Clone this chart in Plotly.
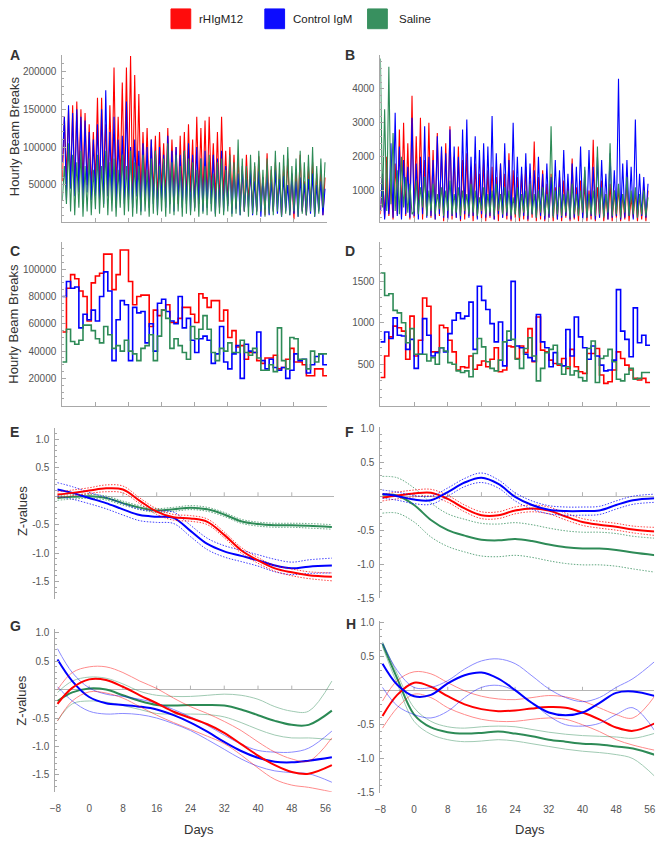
import numpy as np
import plotly.graph_objects as go
from plotly.subplots import make_subplots

W, H = 661, 846

RED = "#ff0000"
BLUE = "#0000ff"
GREEN = "#2e8b57"
GROUPS = ["rHIgM12", "Control IgM", "Saline"]
COLOURS = {"rHIgM12": RED, "Control IgM": BLUE, "Saline": GREEN}

FONT = "Liberation Sans, Arial, sans-serif"
AXIS_GREY = "#a8a8a8"
TEXT_GREY = "#555555"

# time bases
HALF_DAYS = np.arange(-8, 56, 0.5)   # panels A, B (light / dark halves)
DAYS = np.arange(-8, 56)             # panels C, D (daily means)
KNOTS = [-7.5, -4, 0, 4, 8, 12, 16, 20, 24, 28, 32, 36, 40, 44, 48, 52, 57.5]
X_TICKS = list(range(-8, 57, 8))

# ---------------- A: total activity, half-day values (thousands) ----------------
A_RED_K = [
    55, 140, 60, 150, 48, 155, 45, 160, 58, 150, 52, 145, 50, 130, 45, 120,
    55, 165, 40, 165, 60, 130, 35, 155, 50, 205, 40, 140, 55, 185, 45, 205,
    50, 220, 35, 195, 40, 170, 30, 120, 45, 125, 35, 110, 40, 115, 30, 120,
    45, 105, 35, 125, 30, 110, 40, 100, 25, 115, 35, 120, 30, 130, 40, 110,
    20, 140, 35, 125, 30, 135, 25, 140, 40, 105, 30, 120, 20, 140, 35, 95,
    25, 100, 30, 90, 20, 85, 25, 70, 15, 90, 30, 65, 20, 75, 15, 88,
    25, 60, 10, 92, 20, 70, 15, 80, 25, 65, 10, 75, 20, 85, 15, 60,
    5, 70, 20, 90, 15, 55, 10, 75, 20, 80, 12, 65, 18, 70, 10, 60,
]
A_BLUE_K = [
    80, 140, 30, 155, 45, 145, 35, 150, 40, 140, 25, 135, 40, 120, 30, 110,
    35, 130, 30, 150, 25, 175, 35, 120, 30, 140, 20, 110, 35, 115, 25, 160,
    30, 100, 20, 110, 35, 95, 15, 105, 30, 100, 20, 110, 25, 95, 15, 100,
    30, 90, 20, 115, 25, 95, 15, 100, 30, 90, 20, 95, 25, 105, 15, 90,
    20, 100, 25, 85, 15, 95, 20, 80, 25, 90, 12, 85, 20, 95, 15, 75,
    22, 80, 12, 70, 18, 65, 10, 75, 15, 60, 20, 70, 10, 55, 15, 68,
    8, 60, 18, 65, 10, 55, 15, 70, 12, 58, 8, 62, 15, 50, 10, 65,
    12, 55, 8, 60, 15, 52, 10, 58, 12, 65, 8, 50, 15, 55, 10, 45,
]
A_GREEN_K = [
    30, 75, 25, 105, 15, 90, 10, 80, 20, 95, 8, 75, 15, 85, 10, 70,
    18, 90, 12, 75, 20, 95, 10, 80, 15, 85, 8, 70, 20, 90, 10, 75,
    15, 95, 8, 80, 12, 75, 10, 90, 15, 70, 8, 85, 12, 95, 10, 75,
    15, 85, 8, 105, 12, 80, 10, 90, 15, 75, 8, 95, 12, 85, 10, 80,
    15, 70, 8, 85, 12, 75, 10, 90, 15, 65, 8, 80, 12, 85, 10, 70,
    15, 90, 8, 80, 12, 110, 10, 85, 15, 75, 8, 90, 12, 80, 10, 95,
    15, 70, 8, 85, 12, 75, 10, 95, 15, 80, 8, 90, 12, 100, 10, 75,
    15, 85, 8, 95, 12, 80, 10, 90, 15, 100, 8, 75, 12, 85, 20, 80,
]

# ---------------- B: fine movements, half-day values ----------------
B_RED = [
    300, 1500, 200, 2000, 250, 1200, 150, 1800, 300, 2800, 200, 3000, 250, 2400, 150, 3800,
    200, 2600, 300, 3150, 150, 1900, 250, 3000, 200, 2200, 150, 2700, 250, 2200, 100, 2400,
    200, 2900, 150, 2000, 200, 2300, 100, 1900, 150, 2100, 250, 1700, 100, 1800, 200, 1500,
    150, 1900, 100, 1600, 200, 1700, 150, 1400, 100, 1800, 200, 1500, 150, 2100, 100, 1600,
    200, 1400, 100, 1500, 150, 1700, 100, 1300, 200, 2450, 100, 1400, 150, 1600, 100, 1200,
    200, 1500, 100, 1100, 150, 1400, 100, 1300, 200, 1200, 100, 1950, 150, 1100, 100, 1300,
    200, 1200, 100, 1000, 150, 2500, 100, 1100, 200, 1300, 100, 900, 150, 1200, 100, 1000,
    200, 1100, 100, 900, 150, 1300, 100, 800, 200, 1000, 100, 900, 150, 1100, 100, 1000,
]
B_BLUE = [
    400, 1500, 150, 1200, 300, 2400, 200, 3300, 250, 2300, 150, 1900, 300, 1700, 200, 3150,
    250, 1800, 150, 2000, 300, 2900, 200, 2000, 250, 1900, 150, 2600, 300, 2300, 200, 2100,
    150, 2800, 250, 2300, 200, 2000, 150, 2800, 300, 3100, 200, 2000, 250, 2600, 150, 2200,
    300, 2400, 200, 2300, 250, 3200, 150, 2100, 300, 1800, 200, 2400, 250, 1900, 150, 3000,
    300, 2000, 200, 1700, 250, 2100, 150, 1800, 300, 1600, 200, 2000, 250, 1500, 150, 1800,
    200, 1400, 250, 1900, 150, 1600, 200, 2200, 250, 1500, 150, 1800, 200, 1700, 250, 2300,
    150, 1600, 200, 2200, 250, 1700, 150, 2000, 200, 1900, 250, 1500, 150, 2100, 200, 1600,
    250, 4300, 150, 1800, 200, 1900, 250, 1700, 150, 3100, 200, 1500, 250, 1400, 200, 1200,
]
B_GREEN = [
    4900, 500, 3400, 400, 4650, 600, 2700, 400, 1600, 300, 2000, 500, 1400, 350, 1200, 300,
    400, 1300, 300, 1100, 500, 1400, 250, 1000, 400, 1200, 300, 900, 450, 1100, 250, 1000,
    400, 1300, 300, 900, 350, 1100, 250, 1000, 400, 900, 300, 1200, 350, 1000, 250, 800,
    400, 1100, 300, 900, 350, 1000, 250, 1200, 400, 900, 300, 1100, 350, 1000, 250, 800,
    300, 1100, 200, 900, 350, 1000, 250, 1200, 300, 900, 200, 1000, 350, 1100, 250, 900,
    300, 2900, 200, 1000, 300, 1100, 250, 900, 350, 1000, 200, 1200, 300, 900, 250, 1000,
    350, 1700, 200, 900, 300, 1000, 250, 2300, 300, 1100, 200, 900, 350, 2400, 250, 1000,
    300, 1200, 200, 900, 350, 1400, 250, 1000, 300, 1100, 200, 900, 300, 1000, 250, 800,
]

# ---------------- C: daily mean total activity (thousands) ----------------
C_RED_K = [
    54, 86, 96, 93, 84, 80, 62, 90, 95, 97, 111, 111, 85, 96, 114, 114,
    91, 74, 80, 81, 81, 58, 70, 66, 70, 74, 61, 61, 64, 72, 72, 67,
    61, 82, 79, 72, 77, 77, 62, 70, 50, 55, 43, 44, 34, 39, 39, 33,
    31, 35, 35, 37, 27, 28, 34, 42, 32, 32, 30, 22, 22, 27, 27, 22,
]
C_BLUE_K = [
    80, 91, 86, 87, 57, 67, 63, 70, 62, 80, 98, 84, 33, 63, 77, 74,
    33, 72, 68, 69, 46, 60, 40, 75, 78, 69, 62, 60, 80, 57, 64, 48,
    39, 49, 51, 48, 31, 38, 58, 32, 27, 38, 44, 20, 45, 40, 39, 54,
    33, 27, 34, 28, 26, 28, 20, 26, 38, 33, 34, 24, 30, 36, 38, 30,
]
C_GREEN_K = [
    32, 56, 47, 45, 48, 59, 59, 55, 49, 46, 58, 52, 42, 44, 40, 48,
    40, 38, 33, 42, 44, 52, 33, 51, 70, 64, 42, 49, 44, 39, 34, 58,
    49, 56, 66, 56, 39, 33, 42, 40, 46, 39, 39, 48, 39, 37, 42, 35,
    26, 26, 30, 25, 57, 33, 27, 50, 49, 34, 34, 27, 40, 32, 38, 38,
]

# ---------------- D: daily mean fine movements ----------------
D_RED = [
    340, 600, 830, 960, 940, 900, 560, 1080, 600, 790, 1300, 1200, 650, 650, 970, 940,
    790, 650, 430, 470, 460, 600, 440, 490, 540, 470, 560, 700, 410, 430, 720, 710,
    570, 720, 640, 930, 530, 1070, 670, 650, 550, 510, 490, 570, 450, 680, 470, 410,
    390, 630, 630, 690, 370, 270, 290, 430, 650, 570, 490, 430, 330, 310, 330, 280,
]
D_BLUE = [
    770, 890, 810, 1060, 850, 840, 680, 800, 450, 620, 1050, 850, 600, 640, 700, 650,
    870, 1030, 1120, 1050, 1080, 1250, 680, 1440, 1270, 1160, 990, 770, 1010, 480, 790, 1500,
    720, 700, 620, 580, 540, 1100, 770, 700, 470, 640, 500, 480, 920, 600, 1070, 830,
    700, 560, 720, 600, 490, 420, 430, 550, 1400, 900, 800, 590, 1180, 760, 850, 730,
]
D_GREEN = [
    1600, 1330, 1350, 1150, 1120, 1000, 760, 930, 620, 620, 620, 540, 580, 500, 700, 660,
    520, 500, 420, 400, 420, 350, 630, 810, 710, 530, 450, 420, 550, 770, 900, 800,
    560, 450, 690, 820, 600, 300, 450, 640, 680, 730, 500, 380, 470, 370, 420, 340,
    300, 690, 780, 280, 570, 600, 680, 530, 320, 300, 380, 450, 320, 330, 400, 400,
]

# ---------------- E: z-score fits (total), centre and band half-width ----------------
E_RED = [0.03, 0.06, 0.10, 0.14, 0.12, -0.08, -0.27, -0.37, -0.39, -0.45, -0.68, -0.95, -1.13, -1.27, -1.34, -1.39, -1.42]
E_RED_HW = [0.05, 0.05, 0.05, 0.06, 0.06, 0.05, 0.05, 0.05, 0.05, 0.05, 0.05, 0.05, 0.05, 0.05, 0.06, 0.06, 0.07]
E_BLUE = [0.12, 0.06, -0.03, -0.12, -0.23, -0.33, -0.36, -0.38, -0.61, -0.84, -0.97, -1.05, -1.13, -1.22, -1.27, -1.24, -1.22]
E_BLUE_HW = [0.12, 0.11, 0.10, 0.10, 0.10, 0.10, 0.10, 0.10, 0.10, 0.10, 0.10, 0.10, 0.10, 0.11, 0.11, 0.12, 0.13]
E_GREEN = [-0.03, -0.01, 0.0, -0.03, -0.12, -0.20, -0.25, -0.23, -0.20, -0.23, -0.32, -0.44, -0.49, -0.51, -0.51, -0.52, -0.54]
E_GREEN_HW = [0.04, 0.04, 0.035, 0.035, 0.035, 0.035, 0.035, 0.035, 0.035, 0.035, 0.035, 0.035, 0.035, 0.035, 0.035, 0.04, 0.04]

# ---------------- F: z-score fits (fine movements) ----------------
F_RED = [-0.02, 0.01, 0.04, 0.05, -0.04, -0.18, -0.28, -0.28, -0.21, -0.18, -0.21, -0.30, -0.38, -0.42, -0.45, -0.49, -0.52]
F_RED_HW = [0.05, 0.05, 0.05, 0.05, 0.05, 0.05, 0.05, 0.05, 0.05, 0.05, 0.05, 0.05, 0.05, 0.05, 0.05, 0.05, 0.06]
F_BLUE = [0.03, 0.0, -0.05, -0.06, 0.06, 0.20, 0.27, 0.18, -0.01, -0.13, -0.20, -0.22, -0.22, -0.21, -0.13, -0.06, -0.03]
F_BLUE_HW = [0.06, 0.06, 0.06, 0.06, 0.06, 0.06, 0.07, 0.06, 0.06, 0.06, 0.06, 0.06, 0.06, 0.06, 0.06, 0.06, 0.06]
F_GREEN = [0.02, 0.01, -0.13, -0.35, -0.50, -0.58, -0.64, -0.65, -0.63, -0.66, -0.71, -0.75, -0.77, -0.77, -0.79, -0.83, -0.87]
F_GREEN_HW = [0.27, 0.26, 0.25, 0.25, 0.24, 0.24, 0.24, 0.24, 0.24, 0.24, 0.24, 0.24, 0.24, 0.24, 0.24, 0.24, 0.25]

# ---------------- G: polynomial fits (total), centre / lower / upper ----------------
G_RED = [-0.25, 0.03, 0.18, 0.17, 0.05, -0.10, -0.24, -0.39, -0.50, -0.61, -0.76, -0.96, -1.16, -1.33, -1.45, -1.48, -1.33]
G_RED_LO = [-0.55, -0.20, -0.04, -0.06, -0.15, -0.30, -0.45, -0.58, -0.70, -0.82, -0.95, -1.15, -1.38, -1.58, -1.68, -1.72, -1.80]
G_RED_HI = [0.0, 0.30, 0.40, 0.40, 0.30, 0.15, 0.02, -0.15, -0.30, -0.42, -0.56, -0.72, -0.92, -1.10, -1.22, -1.26, -0.85]
G_BLUE = [0.53, 0.15, -0.13, -0.24, -0.27, -0.30, -0.35, -0.45, -0.58, -0.74, -0.92, -1.08, -1.20, -1.27, -1.28, -1.25, -1.19]
G_BLUE_LO = [0.05, -0.20, -0.38, -0.43, -0.42, -0.44, -0.50, -0.60, -0.72, -0.88, -1.05, -1.22, -1.35, -1.43, -1.46, -1.48, -1.63]
G_BLUE_HI = [0.72, 0.30, 0.03, -0.08, -0.12, -0.17, -0.24, -0.35, -0.48, -0.63, -0.80, -0.96, -1.07, -1.10, -1.10, -1.03, -0.73]
G_GREEN = [-0.20, -0.05, 0.02, 0.0, -0.10, -0.20, -0.27, -0.28, -0.27, -0.27, -0.28, -0.35, -0.45, -0.55, -0.62, -0.62, -0.37]
G_GREEN_LO = [-0.55, -0.25, -0.20, -0.22, -0.28, -0.35, -0.42, -0.43, -0.43, -0.44, -0.48, -0.58, -0.70, -0.80, -0.85, -0.85, -0.88]
G_GREEN_HI = [-0.05, 0.15, 0.22, 0.20, 0.10, -0.03, -0.10, -0.12, -0.12, -0.10, -0.08, -0.10, -0.17, -0.30, -0.38, -0.38, 0.15]

# ---------------- H: polynomial fits (fine movements) ----------------
H_RED = [-0.37, -0.06, 0.12, 0.06, -0.08, -0.20, -0.27, -0.30, -0.29, -0.26, -0.24, -0.25, -0.32, -0.42, -0.54, -0.59, -0.47]
H_RED_LO = [-0.55, -0.25, -0.05, -0.10, -0.25, -0.35, -0.42, -0.45, -0.45, -0.42, -0.40, -0.42, -0.50, -0.60, -0.72, -0.80, -0.88]
H_RED_HI = [-0.15, 0.15, 0.28, 0.25, 0.12, 0.0, -0.08, -0.12, -0.13, -0.10, -0.07, -0.09, -0.15, -0.25, -0.35, -0.40, -0.05]
H_BLUE = [0.40, 0.09, -0.08, -0.06, 0.11, 0.23, 0.27, 0.18, 0.01, -0.18, -0.32, -0.36, -0.32, -0.18, -0.03, -0.01, -0.08]
H_BLUE_LO = [0.05, -0.22, -0.35, -0.40, -0.30, -0.10, 0.05, 0.08, 0.0, -0.17, -0.37, -0.50, -0.52, -0.48, -0.35, -0.25, -0.62]
H_BLUE_HI = [0.70, 0.30, 0.05, 0.05, 0.15, 0.32, 0.44, 0.47, 0.40, 0.22, 0.03, -0.10, -0.16, -0.10, 0.05, 0.18, 0.45]
H_GREEN = [0.69, 0.18, -0.35, -0.54, -0.61, -0.63, -0.62, -0.60, -0.63, -0.67, -0.72, -0.75, -0.78, -0.79, -0.82, -0.85, -0.95]
H_GREEN_LO = [0.65, 0.10, -0.45, -0.64, -0.72, -0.75, -0.74, -0.72, -0.74, -0.78, -0.82, -0.86, -0.89, -0.91, -0.94, -1.00, -1.28]
H_GREEN_HI = [0.72, 0.25, -0.25, -0.45, -0.53, -0.55, -0.53, -0.52, -0.53, -0.57, -0.61, -0.64, -0.66, -0.67, -0.68, -0.70, -0.62]

Z_TICKS = [-1.5, -1.0, -0.5, 0.5, 1.0]

# panel geometry in pixels: (x0, x1), (top, bottom), x range, y range
PANELS = {
    (1, 1): dict(px=(57, 325), py=(51, 220), xr=[-8, 56], yr=[1000, 221000]),
    (1, 2): dict(px=(379, 652), py=(51, 220), xr=[-8, 56], yr=[70, 4990]),
    (2, 1): dict(px=(57, 325), py=(240, 406), xr=[-8, 56], yr=[0, 120000]),
    (2, 2): dict(px=(379, 652), py=(240, 406), xr=[-8, 56], yr=[0, 1976]),
    (3, 1): dict(px=(50, 332), py=(429, 602), xr=[-8, 58], yr=[-1.813, 1.196]),
    (3, 2): dict(px=(379, 656), py=(428, 601), xr=[-8, 57], yr=[-1.5, 1.01]),
    (4, 1): dict(px=(50, 332), py=(632, 797), xr=[-8, 58], yr=[-1.795, 1.07]),
    (4, 2): dict(px=(379, 656), py=(624, 798), xr=[-8, 57], yr=[-1.5, 1.03]),
}


def _axis_no(row, col):
    return (row - 1) * 2 + col


def add_spiky(fig, values, colour, row, col):
    fig.add_trace(
        go.Scatter(x=HALF_DAYS, y=values, mode="lines",
                   line=dict(color=colour, width=1.1), showlegend=False, hoverinfo="skip"),
        row=row, col=col,
    )


def add_steps(fig, values, colour, row, col):
    x = np.append(DAYS, 56)
    y = list(values) + [values[-1]]
    fig.add_trace(
        go.Scatter(x=x, y=y, mode="lines", line=dict(color=colour, width=1.6, shape="hv"),
                   showlegend=False, hoverinfo="skip"),
        row=row, col=col,
    )


def add_fit(fig, centre, lower, upper, colour, row, col, dotted):
    band = dict(color=colour, width=1, shape="spline", dash="1.5px,1.5px" if dotted else "solid")
    for edge in (lower, upper):
        fig.add_trace(
            go.Scatter(x=KNOTS, y=edge, mode="lines", line=band, opacity=0.75 if dotted else 0.45,
                       showlegend=False, hoverinfo="skip"),
            row=row, col=col,
        )
    fig.add_trace(
        go.Scatter(x=KNOTS, y=centre, mode="lines",
                   line=dict(color=colour, width=2, shape="spline"),
                   showlegend=False, hoverinfo="skip"),
        row=row, col=col,
    )


fig = make_subplots(rows=4, cols=2)

# A / B
for vals, colour in [(A_RED_K, RED), (A_BLUE_K, BLUE), (A_GREEN_K, GREEN)]:
    add_spiky(fig, np.array(vals) * 1000, colour, 1, 1)
for vals, colour in [(B_RED, RED), (B_BLUE, BLUE), (B_GREEN, GREEN)]:
    add_spiky(fig, vals, colour, 1, 2)

# C / D
for vals, colour in [(C_RED_K, RED), (C_BLUE_K, BLUE), (C_GREEN_K, GREEN)]:
    add_steps(fig, [v * 1000 for v in vals], colour, 2, 1)
for vals, colour in [(D_RED, RED), (D_BLUE, BLUE), (D_GREEN, GREEN)]:
    add_steps(fig, vals, colour, 2, 2)

# E / F (centre +- half width, dotted bands)
for c, hw, colour in [(E_GREEN, E_GREEN_HW, GREEN), (E_BLUE, E_BLUE_HW, BLUE), (E_RED, E_RED_HW, RED)]:
    c, hw = np.array(c), np.array(hw)
    add_fit(fig, c, c - hw, c + hw, colour, 3, 1, True)
for c, hw, colour in [(F_GREEN, F_GREEN_HW, GREEN), (F_RED, F_RED_HW, RED), (F_BLUE, F_BLUE_HW, BLUE)]:
    c, hw = np.array(c), np.array(hw)
    add_fit(fig, c, c - hw, c + hw, colour, 3, 2, True)

# G / H (thin solid bands)
for c, lo, hi, colour in [(G_GREEN, G_GREEN_LO, G_GREEN_HI, GREEN),
                          (G_BLUE, G_BLUE_LO, G_BLUE_HI, BLUE),
                          (G_RED, G_RED_LO, G_RED_HI, RED)]:
    add_fit(fig, c, lo, hi, colour, 4, 1, False)
for c, lo, hi, colour in [(H_GREEN, H_GREEN_LO, H_GREEN_HI, GREEN),
                          (H_RED, H_RED_LO, H_RED_HI, RED),
                          (H_BLUE, H_BLUE_LO, H_BLUE_HI, BLUE)]:
    add_fit(fig, c, lo, hi, colour, 4, 2, False)

tick_font = dict(family=FONT, size=10, color=TEXT_GREY)
Y_SPECS = {
    (1, 1): dict(tickvals=[50000, 100000, 150000, 200000], minor_dtick=10000),
    (1, 2): dict(tickvals=[1000, 2000, 3000, 4000], minor_dtick=200),
    (2, 1): dict(tickvals=[20000, 40000, 60000, 80000, 100000], minor_dtick=5000),
    (2, 2): dict(tickvals=[500, 1000, 1500], minor_dtick=100),
}

shapes = []
for (row, col), p in PANELS.items():
    n = _axis_no(row, col)
    xdom = [p["px"][0] / W, p["px"][1] / W]
    ydom = [1 - p["py"][1] / H, 1 - p["py"][0] / H]
    z_panel = row >= 3
    fig.update_xaxes(
        domain=xdom, range=p["xr"], tickvals=X_TICKS, showgrid=False, zeroline=False,
        showline=not z_panel, linecolor=AXIS_GREY, linewidth=1,
        ticks="" if z_panel else "inside", ticklen=4, tickcolor=AXIS_GREY,
        showticklabels=(row == 4), ticklabelstandoff=9, tickfont=tick_font,
        row=row, col=col,
    )
    if z_panel:
        fig.update_yaxes(
            domain=ydom, range=p["yr"], tickvals=Z_TICKS,
            ticktext=[f"{v:.1f}" for v in Z_TICKS],
            zeroline=True, zerolinecolor="#b4b4b4", zerolinewidth=1,
            minor=dict(ticks="inside", ticklen=2, tickcolor=AXIS_GREY, dtick=0.1, tick0=0),
            row=row, col=col,
        )
        for t in X_TICKS[1:-1]:
            shapes.append(dict(type="line", xref=f"x{n}", yref=f"y{n}", ysizemode="pixel",
                               yanchor=0, x0=t, x1=t, y0=0, y1=4,
                               line=dict(color="#b4b4b4", width=1), layer="below"))
    else:
        spec = Y_SPECS[(row, col)]
        fig.update_yaxes(
            domain=ydom, range=p["yr"], tickvals=spec["tickvals"],
            ticktext=[str(v) for v in spec["tickvals"]], zeroline=False,
            minor=dict(ticks="inside", ticklen=2, tickcolor=AXIS_GREY,
                       dtick=spec["minor_dtick"], tick0=0),
            row=row, col=col,
        )
    fig.update_yaxes(
        showgrid=False, showline=True, linecolor=AXIS_GREY, linewidth=1,
        ticks="inside", ticklen=4, tickcolor=AXIS_GREY, tickfont=tick_font,
        ticklabelstandoff=3, row=row, col=col,
    )

annotations = []
# panel letters
for letter, (x, y) in zip("ABCDEFGH", [(9, 51), (348, 51), (9, 249), (348, 249),
                                       (9, 433), (348, 433), (10, 629), (349, 627)]):
    annotations.append(dict(text=f"<b>{letter}</b>", x=x / W, y=1 - y / H, xref="paper", yref="paper",
                            showarrow=False, xanchor="center", yanchor="middle",
                            font=dict(family=FONT, size=14, color="#333333")))
# axis titles
for text, x, y in [("Hourly Beam Breaks", 8, 133), ("Hourly Beam Breaks", 8, 323),
                   ("Z-values", 17, 513), ("Z-values", 16, 705)]:
    annotations.append(dict(text=text, x=x / W, y=1 - y / H, xref="paper", yref="paper",
                            textangle=-90, showarrow=False, xanchor="center", yanchor="middle",
                            font=dict(family=FONT, size=13, color="#333333")))
for x in (195, 530):
    annotations.append(dict(text="Days", x=x / W, y=1 - 835 / H, xref="paper", yref="paper",
                            showarrow=False, xanchor="center", yanchor="middle",
                            font=dict(family=FONT, size=13, color="#333333")))

# legend (coloured squares + names)
for name, box_x, text_x in zip(GROUPS, [167, 262, 366], [193, 288, 396]):
    shapes.append(dict(type="rect", xref="paper", yref="paper",
                       x0=box_x / W, x1=(box_x + 20) / W, y0=1 - 24 / H, y1=1 - 4 / H,
                       fillcolor=COLOURS[name], line=dict(color=COLOURS[name], width=1), opacity=0.95))
    annotations.append(dict(text=name, x=text_x / W, y=1 - 14 / H, xref="paper", yref="paper",
                            showarrow=False, xanchor="left", yanchor="middle",
                            font=dict(family=FONT, size=11.5, color="#222222")))

fig.update_layout(
    width=W, height=H,
    margin=dict(l=0, r=0, t=0, b=0),
    paper_bgcolor="white", plot_bgcolor="white",
    showlegend=False,
    shapes=shapes, annotations=annotations,
    font=dict(family=FONT),
)

# the page body has a default margin; drop it so the figure sits flush in the window
fig.write_html("out.html", config={"displayModeBar": False},
               post_script="document.body.style.margin='0';document.body.style.overflow='hidden';")
